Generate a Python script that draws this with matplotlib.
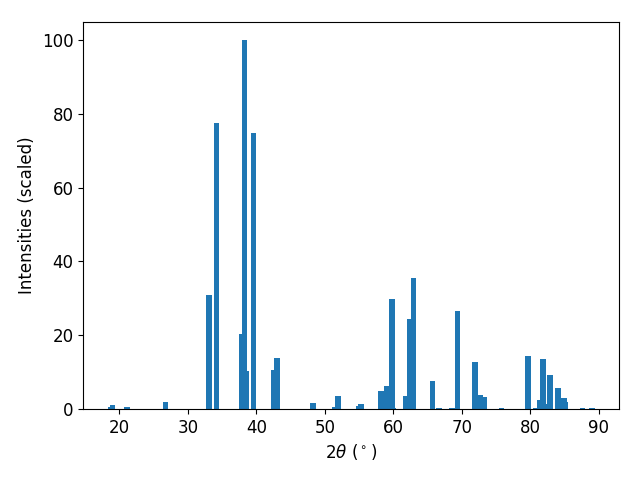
import matplotlib
matplotlib.use("Agg")
import matplotlib.pyplot as plt

# peak positions (2theta, deg) and scaled intensities
two_theta = [18.66, 18.95, 21.11, 26.72, 33.07, 34.16, 37.91, 38.25, 38.48,
             39.56, 42.58, 43.02, 48.24, 51.48, 51.89, 54.98, 55.25, 58.19,
             59.07, 59.80, 60.00, 61.84, 62.43, 62.91, 65.68, 66.63, 68.52,
             69.33, 71.88, 72.60, 73.20, 75.80, 79.64, 80.80, 81.39, 81.83,
             82.06, 82.85, 84.00, 84.90, 85.10, 87.60, 88.95]
intensity = [0.5, 1.1, 0.5, 1.9, 30.9, 77.4, 20.2, 100.0, 10.4,
             74.8, 10.5, 13.8, 1.6, 0.5, 3.5, 0.8, 1.4, 4.9,
             6.2, 29.8, 0.3, 3.5, 24.4, 35.5, 7.6, 0.3, 0.3,
             26.6, 12.7, 3.8, 3.3, 0.3, 14.4, 0.3, 2.4, 13.6,
             1.4, 9.2, 5.7, 3.0, 1.9, 0.3, 0.3]

plt.rcParams["font.size"] = 12

fig, ax = plt.subplots(figsize=(6.4, 4.8), dpi=100)
ax.bar(two_theta, intensity)
ax.set_xlabel(r"$2\theta$ ($^\circ$)")
ax.set_ylabel("Intensities (scaled)")
fig.subplots_adjust(left=0.130, right=0.967, top=0.955, bottom=0.148)
fig.savefig("out.png")
